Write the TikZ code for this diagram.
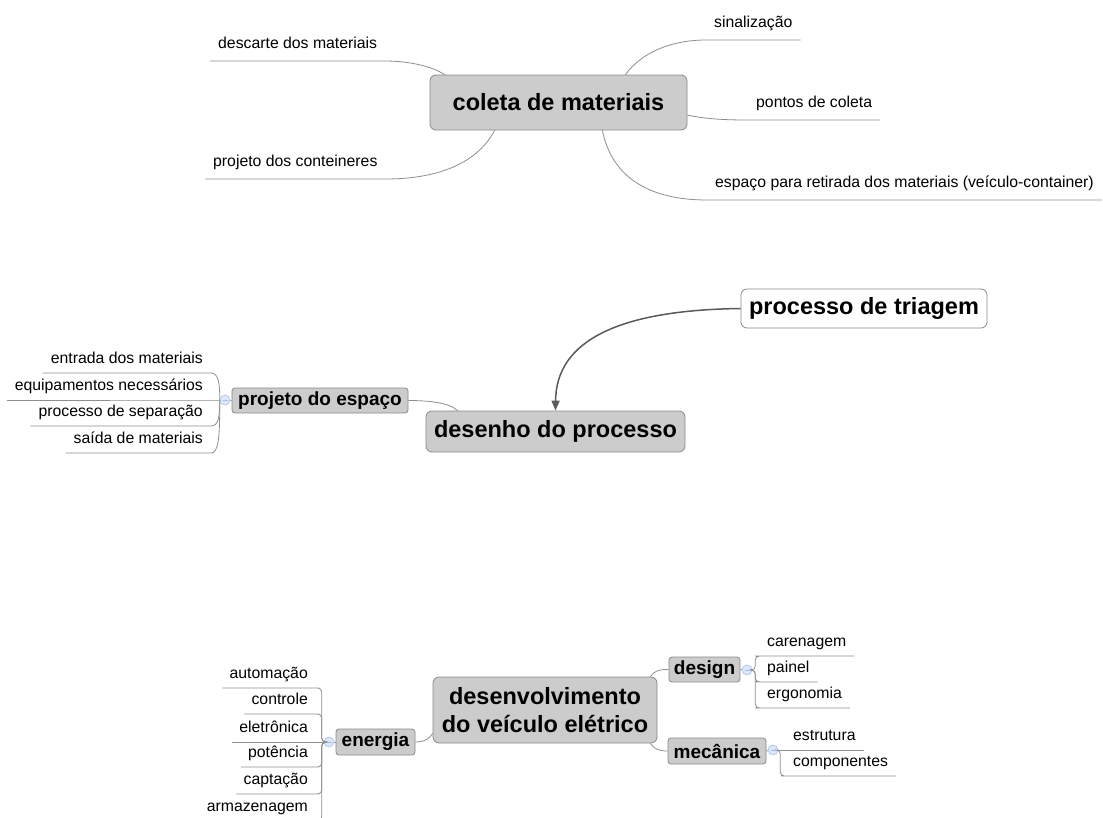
\documentclass[tikz,border=0pt]{standalone}
\usepackage{fontspec}
\setmainfont{Liberation Sans}
\usetikzlibrary{arrows.meta,calc}
\definecolor{topicfill}{HTML}{CCCCCC}
\definecolor{topicdraw}{HTML}{8A8A8A}
\definecolor{linegray}{HTML}{8E8E8E}
\definecolor{arrowgray}{HTML}{5A5A5A}
\definecolor{circfill}{HTML}{DCE6F8}
\definecolor{circdraw}{HTML}{A8C0EA}
\begin{document}
\begin{tikzpicture}[x=1pt,y=-1pt,
 main/.style={draw=topicdraw,fill=topicfill,rounded corners=6pt,font=\fontsize{23.5}{27.5}\selectfont\bfseries,inner sep=0pt,align=center,line width=0.8pt},
 sub/.style={draw=topicdraw,fill=topicfill,rounded corners=3pt,font=\fontsize{19}{22}\selectfont\bfseries,inner sep=0pt,line width=0.8pt},
 leaf/.style={font=\fontsize{15.8}{18}\selectfont,inner ysep=0pt,inner xsep=8pt,text height=12pt,text depth=9pt},
 topleaf/.style={leaf,text depth=12.5pt},
 conn/.style={draw=linegray,line width=0.8pt},
 circ/.style={circle,draw=circdraw,fill=circfill,minimum size=10pt,inner sep=0pt,line width=0.6pt,
   path picture={\draw[circdraw,line width=0.6pt] ([xshift=-2.5pt]path picture bounding box.center) -- ([xshift=2.5pt]path picture bounding box.center);}}
]
\useasboundingbox[fill=white] (0,0) rectangle (1103,817);

% ---------- top: coleta de materiais ----------
\node[main,minimum width=257pt,minimum height=55pt] (coleta) at (558.5,102.5) {coleta de materiais};
\node[topleaf,anchor=south west] (descarte) at (210,61) {descarte dos materiais};
\node[topleaf,anchor=south west] (conteineres) at (205,179) {projeto dos conteineres};
\node[topleaf,anchor=south west] (sinal) at (706,40) {sinalização};
\node[topleaf,anchor=south west] (pontos) at (748,120) {pontos de coleta};
\node[topleaf,anchor=south west] (espaco) at (707,200) {espaço para retirada dos materiais (veículo-container)};

\draw[conn] ([xshift=15pt]coleta.north west) .. controls (430,65) and (405,61) .. (descarte.south east) -- (descarte.south west);
\draw[conn] ([xshift=65pt]coleta.south west) .. controls (478,162) and (440,179) .. (conteineres.south east) -- (conteineres.south west);
\draw[conn] ([xshift=-62pt]coleta.north east) .. controls (642,52) and (672,40) .. (sinal.south west) -- (sinal.south east);
\draw[conn] ([yshift=-12.5pt]coleta.east) .. controls (705,119) and (725,120) .. (pontos.south west) -- (pontos.south east);
\draw[conn] ([xshift=-85pt]coleta.south east) .. controls (612,178) and (650,200) .. (espaco.south west) -- (espaco.south east);

% ---------- middle: desenho do processo ----------
\node[main,minimum width=259pt,minimum height=41pt] (desenho) at (555.5,431.5) {desenho do processo};
\node[main,fill=white,minimum width=246pt,minimum height=39pt] (triagem) at (864,308.5) {processo de triagem};
\draw[arrowgray,line width=1.5pt,-{Triangle[length=10pt,width=8pt]}] (triagem.west) .. controls (620,310) and (556,340) .. (desenho.north);

\node[sub,minimum width=176pt,minimum height=25pt] (pespaco) at (320,400.5) {projeto do espaço};
\node[circ] (pcirc) at (225,400) {};
\draw[conn] ([xshift=32pt]desenho.north west) .. controls (450,403) and (430,400.5) .. (pespaco.east);
\draw[conn] (pcirc) -- (pespaco.west);

\node[leaf,anchor=south east] (entrada) at (211,373) {entrada dos materiais};
\node[leaf,anchor=south east] (equip) at (211,400) {equipamentos necessários};
\node[leaf,anchor=south east] (separacao) at (211,426) {processo de separação};
\node[leaf,anchor=south east] (saida) at (211,453) {saída de materiais};
\draw[conn] (pcirc.west) .. controls (220,382) and (218,373) .. (entrada.south east) -- (entrada.south west);
\draw[conn] (pcirc.west) -- (equip.south east) -- (equip.south west);
\draw[conn] (pcirc.west) .. controls (220,418) and (218,426) .. (separacao.south east) -- (separacao.south west);
\draw[conn] (pcirc.west) .. controls (220,440) and (218,453) .. (saida.south east) -- (saida.south west);

% ---------- bottom: desenvolvimento do veiculo eletrico ----------
\node[main,minimum width=224pt,minimum height=66pt] (desen) at (545,710) {desenvolvimento\\do veículo elétrico};

\node[sub,minimum width=79pt,minimum height=26pt] (energia) at (375.5,742) {energia};
\node[circ] (ecirc) at (329,742) {};
\draw[conn] (ecirc) -- (energia.west);
\draw[conn] (energia.east) .. controls (425,742) and (430,738) .. ([yshift=10pt]desen.south west);

\node[leaf,anchor=south east,inner xsep=7pt] (autom) at (315,688) {automação};
\node[leaf,anchor=south east,inner xsep=7pt] (controle) at (315,714) {controle};
\node[leaf,anchor=south east,inner xsep=7pt] (eletronica) at (315,742) {eletrônica};
\node[leaf,anchor=south east,inner xsep=7pt] (potencia) at (315,767) {potência};
\node[leaf,anchor=south east,inner xsep=7pt] (captacao) at (315,794) {captação};
\node[leaf,anchor=south east,inner xsep=7pt] (armaz) at (315,821) {armazenagem};
\draw[conn,rounded corners=4pt] (ecirc.west) -- ++(-2,0) |- (autom.south east) -- (autom.south west);
\draw[conn,rounded corners=4pt] (ecirc.west) -- ++(-2,0) |- (controle.south east) -- (controle.south west);
\draw[conn] (ecirc.west) -- (eletronica.south east) -- (eletronica.south west);
\draw[conn,rounded corners=4pt] (ecirc.west) -- ++(-2,0) |- (potencia.south east) -- (potencia.south west);
\draw[conn,rounded corners=4pt] (ecirc.west) -- ++(-2,0) |- (captacao.south east) -- (captacao.south west);
\draw[conn,rounded corners=4pt] (ecirc.west) -- ++(-2,0) |- (armaz.south east) -- (armaz.south west);

\node[sub,minimum width=71pt,minimum height=25pt] (design) at (704.5,669.5) {design};
\node[sub,minimum width=98pt,minimum height=26pt] (mec) at (717,751) {mecânica};
\draw[conn] ([xshift=-7pt]desen.north east) .. controls (655,670) and (660,669.5) .. (design.west);
\draw[conn] ([xshift=-7pt]desen.south east) .. controls (655,750) and (660,751) .. (mec.west);

\node[circ] (dcirc) at (747,670) {};
\draw[conn] (design.east) -- (dcirc);
\node[leaf,anchor=south west] (caren) at (759,656) {carenagem};
\node[leaf,anchor=south west] (painel) at (759,682) {painel};
\node[leaf,anchor=south west] (ergon) at (759,708) {ergonomia};
\draw[conn,rounded corners=4pt] (dcirc.east) -- ++(3,0) |- (caren.south west) -- (caren.south east);
\draw[conn,rounded corners=4pt] (dcirc.east) -- ++(3,0) |- (painel.south west) -- (painel.south east);
\draw[conn,rounded corners=4pt] (dcirc.east) -- ++(3,0) |- (ergon.south west) -- (ergon.south east);

\node[circ] (mcirc) at (773,750) {};
\draw[conn] (mec.east) -- (mcirc);
\node[leaf,anchor=south west] (estrut) at (785,750) {estrutura};
\node[leaf,anchor=south west] (compon) at (785,776) {componentes};
\draw[conn] (mcirc.east) -- (estrut.south west) -- (estrut.south east);
\draw[conn,rounded corners=4pt] (mcirc.east) -- ++(2,0) |- (compon.south west) -- (compon.south east);
\end{tikzpicture}
\end{document}
